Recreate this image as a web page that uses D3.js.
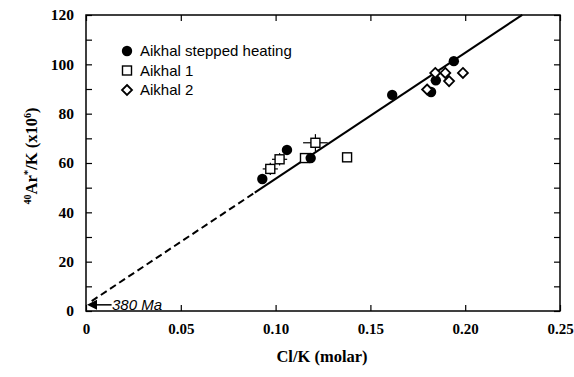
<!DOCTYPE html>
<html><head><meta charset="utf-8">
<script src="https://cdn.jsdelivr.net/npm/d3@7/dist/d3.min.js"></script>
<style>body{margin:0;background:#fff}</style>
</head><body>
<svg id="c" width="574" height="377"></svg>
<script>
const xTicks = [0, 0.05, 0.10, 0.15, 0.20, 0.25];
const xTickLabels = ["0", "0.05", "0.10", "0.15", "0.20", "0.25"];
const yTicks = [0, 20, 40, 60, 80, 100, 120];
const steppedX = [0.093, 0.106, 0.1615, 0.182, 0.1845, 0.194, 0.1185];
const steppedY = [53.5, 65.3, 87.6, 88.8, 93.5, 101.3, 62];
const aikhal1X = [0.0972, 0.1021, 0.121, 0.1377, 0.1155];
const aikhal1Y = [57.6, 61.5, 68.2, 62.3, 62];
const aikhal1Ex = [0.004, 0.004, 0.0065, 0, 0];
const aikhal1Ey = [2.5, 2.5, 3.5, 0, 0];
const aikhal2X = [0.1799, 0.1842, 0.1895, 0.1915, 0.1988];
const aikhal2Y = [89.8, 96.5, 96.5, 93.2, 96.5];
const fitIntercept = 2.5, fitSlope = 511;
const fitDashEnd = 0.089, fitEnd = 0.2301;

const svg = d3.select("#c");
const L = 86, R = 560, T = 15, B = 311;
const x = d3.scaleLinear().domain([0, 0.25]).range([L, R]);
const y = d3.scaleLinear().domain([0, 120]).range([B, T]);
const serif = "'Liberation Serif','Times New Roman',serif";
const sans = "'Liberation Sans',Arial,sans-serif";

svg.append("rect").attr("x", L).attr("y", T).attr("width", R - L).attr("height", B - T)
  .attr("fill", "none").attr("stroke", "#000").attr("stroke-width", 1.5);

const ax = d3.axisBottom(x).tickValues(xTicks).tickSize(-6).tickFormat((d, i) => xTickLabels[i]);
const gx = svg.append("g").attr("transform", `translate(0,${B})`).call(ax);
gx.select(".domain").remove();
gx.selectAll("text").attr("y", 12).attr("font-family", serif).attr("font-weight", "bold").attr("font-size", 15).attr("fill", "#000");
const axTop = d3.axisTop(x).tickValues(xTicks).tickSize(-6).tickFormat("");
const gxt = svg.append("g").attr("transform", `translate(0,${T})`).call(axTop);
gxt.select(".domain").remove();

const yMinor = d3.range(0, 121, 10);
const ay = d3.axisLeft(y).tickValues(yMinor).tickSize(-6).tickFormat(d => yTicks.includes(d) ? d : "");
const gy = svg.append("g").attr("transform", `translate(${L},0)`).call(ay);
gy.select(".domain").remove();
gy.selectAll("text").attr("x", -12).attr("font-family", serif).attr("font-weight", "bold").attr("font-size", 15.5).attr("fill", "#000");
const ayR = d3.axisRight(y).tickValues(yMinor).tickSize(-6).tickFormat("");
const gyr = svg.append("g").attr("transform", `translate(${R},0)`).call(ayR);
gyr.select(".domain").remove();
svg.selectAll(".tick line").attr("stroke", "#000").attr("stroke-width", 1.2);

const fy = v => fitIntercept + fitSlope * v;
svg.append("line").attr("x1", x(0.003)).attr("y1", y(fy(0.003))).attr("x2", x(fitDashEnd)).attr("y2", y(fy(fitDashEnd)))
  .attr("stroke", "#000").attr("stroke-width", 2).attr("stroke-dasharray", "7,4");
svg.append("line").attr("x1", x(fitDashEnd)).attr("y1", y(fy(fitDashEnd))).attr("x2", x(fitEnd)).attr("y2", y(fy(fitEnd)))
  .attr("stroke", "#000").attr("stroke-width", 2);

svg.append("line").attr("x1", x(0.0135)).attr("y1", y(fitIntercept)).attr("x2", x(0.004)).attr("y2", y(fitIntercept))
  .attr("stroke", "#000").attr("stroke-width", 1.5);
svg.append("path").attr("d", `M${x(0)+1},${y(fitIntercept)} l10,-5 l0,10 z`).attr("fill", "#000");
svg.append("text").attr("x", x(0.0137)).attr("y", y(fitIntercept) + 5.5).attr("font-family", sans)
  .attr("font-style", "italic").attr("font-size", 15).text("380 Ma");

const a1 = aikhal1X.map((v, i) => ({x: v, y: aikhal1Y[i], ex: aikhal1Ex[i], ey: aikhal1Ey[i]}));
a1.forEach(d => {
  if (d.ex) svg.append("line").attr("x1", x(d.x - d.ex)).attr("x2", x(d.x + d.ex)).attr("y1", y(d.y)).attr("y2", y(d.y)).attr("stroke", "#000").attr("stroke-width", 1.2);
  if (d.ey) svg.append("line").attr("x1", x(d.x)).attr("x2", x(d.x)).attr("y1", y(d.y - d.ey)).attr("y2", y(d.y + d.ey)).attr("stroke", "#000").attr("stroke-width", 1.2);
});
svg.selectAll(".a1").data(a1).join("rect").attr("x", d => x(d.x) - 4.5).attr("y", d => y(d.y) - 4.5)
  .attr("width", 9).attr("height", 9).attr("fill", "#fff").attr("stroke", "#000").attr("stroke-width", 1.4);
const st = steppedX.map((v, i) => ({x: v, y: steppedY[i]}));
svg.selectAll(".st").data(st).join("circle").attr("cx", d => x(d.x)).attr("cy", d => y(d.y)).attr("r", 5.2).attr("fill", "#000");
const a2 = aikhal2X.map((v, i) => ({x: v, y: aikhal2Y[i]}));
svg.selectAll(".a2").data(a2).join("path").attr("d", d => `M${x(d.x)},${y(d.y)-5} l5,5 l-5,5 l-5,-5 z`)
  .attr("fill", "#fff").attr("stroke", "#000").attr("stroke-width", 1.8);

const lg = svg.append("g");
lg.append("circle").attr("cx", 127).attr("cy", 51).attr("r", 5.2).attr("fill", "#000");
lg.append("rect").attr("x", 122.5).attr("y", 66).attr("width", 9).attr("height", 9).attr("fill", "#fff").attr("stroke", "#000").attr("stroke-width", 1.4);
lg.append("path").attr("d", "M127,85 l5,5 l-5,5 l-5,-5 z").attr("fill", "#fff").attr("stroke", "#000").attr("stroke-width", 1.8);
const names = ["Aikhal stepped heating", "Aikhal 1", "Aikhal 2"];
names.forEach((n, i) => lg.append("text").attr("x", 140).attr("y", 56 + i * 19.5).attr("font-family", sans).attr("font-size", 15).text(n));

svg.append("text").attr("x", 322).attr("y", 362).attr("text-anchor", "middle").attr("font-family", serif)
  .attr("font-weight", "bold").attr("font-size", 16.5).text("Cl/K (molar)");
const yt = svg.append("text").attr("transform", "translate(37,156) rotate(-90)").attr("text-anchor", "middle")
  .attr("font-family", serif).attr("font-weight", "bold").attr("font-size", 16.5);
yt.append("tspan").attr("font-size", 10).attr("dy", -6).text("40");
yt.append("tspan").attr("dy", 6).text("Ar");
yt.append("tspan").attr("font-size", 11).attr("dy", -6).text("*");
yt.append("tspan").attr("dy", 6).text("/K (x10");
yt.append("tspan").attr("font-size", 10).attr("dy", -6).text("6");
yt.append("tspan").attr("dy", 6).text(")");
</script>
</body></html>
